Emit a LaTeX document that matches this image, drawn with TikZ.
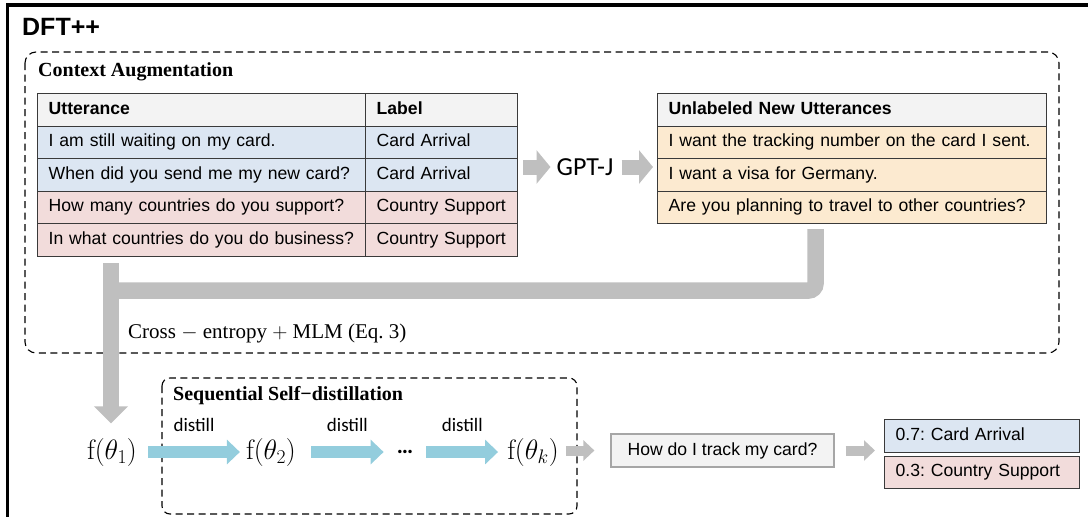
\documentclass[tikz,border=0pt]{standalone}
\usepackage{fix-cm}
\usepackage{fontspec}
\usetikzlibrary{arrows.meta}
\newfontfamily\arial{Liberation Sans}
\newfontfamily\calibri{Carlito}
\newfontfamily\cambria{Liberation Serif}
\newcommand\tabfont{\arial\fontsize{17.6}{20}\selectfont}
\frenchspacing
\definecolor{hdr}{HTML}{F3F3F3}
\definecolor{blu}{HTML}{DCE6F2}
\definecolor{pnk}{HTML}{F2DCDB}
\definecolor{org}{HTML}{FCEAD0}
\definecolor{garr}{HTML}{BFBFBF}
\definecolor{darr}{HTML}{93CDDD}
\definecolor{tb}{HTML}{3A3A3A}
\definecolor{qb}{HTML}{A6A6A6}
\begin{document}
\frenchspacing
\begin{tikzpicture}[x=1pt,y=-1pt,
  cell/.style={draw=tb, line width=1.4pt, anchor=north west, minimum height=32.5pt,
    inner xsep=11pt, inner ysep=0pt, align=left, text height=12.6pt, text depth=3.7pt, font=\tabfont},
  wa/.style={text width=306pt},
  wb/.style={text width=130pt},
  wc/.style={text width=367pt},
  wo/.style={text width=173pt},
  dashbox/.style={draw=black, line width=1.1pt, dash pattern=on 7pt off 4.5pt},
  fnode/.style={inner sep=0pt, font=\fontsize{28}{31}\selectfont},
  darrow/.style={draw=darr, line width=12pt, -{Triangle[width=24pt,length=13pt]}},
  garrow/.style={draw=garr, line width=15pt, -{Triangle[width=33pt,length=14pt]}},
  garrowsm/.style={draw=garr, line width=10pt, -{Triangle[width=20pt,length=11pt]}},
  bigbar/.style={draw=garr, line width=16.5pt, rounded corners=7pt},
  bigarrow/.style={draw=garr, line width=16pt, -{Triangle[width=33pt,length=17pt]}},
  dlab/.style={above=14pt, inner sep=0pt, font=\calibri\fontsize{19}{21}\selectfont},
  ttl/.style={anchor=base west, inner sep=0pt},
  grp/.style={ttl, font=\cambria\bfseries\fontsize{20}{23}\selectfont}
]
\useasboundingbox (0,0) rectangle (1088,517);
\clip (0,0) rectangle (1088,517);

% outer frame
\draw[line width=3.5pt] (7.5,5) rectangle (1100,530);
\node[ttl, font=\arial\bfseries\fontsize{25}{28}\selectfont] (title) at (22,35) {DFT++};

% dashed group boxes
\draw[dashbox, rounded corners=11pt] (25,52) rectangle (1059,353);
\node[grp] (ca) at (38,76) {Context Augmentation};
\draw[dashbox, rounded corners=8pt] (162,378) rectangle (577,514);
\node[grp] (sd) at (173,400) {Sequential Self−distillation};

% big gray connectors
\coordinate (rb) at (815.5,229);
\coordinate (lb) at (111,263);
\coordinate (jn) at (111,290.5);
\draw[bigbar] (rb) |- (jn);

% labeled table
\node[cell,wa,fill=hdr,font={\tabfont\bfseries}] (h1) at (37,93) {Utterance};
\node[cell,wb,fill=hdr,font={\tabfont\bfseries}] (h2) at (365,93) {Label};
\node[cell,wa,fill=blu] (u1) at (37,125.5) {I am still waiting on my card.};
\node[cell,wb,fill=blu] (l1) at (365,125.5) {Card Arrival};
\node[cell,wa,fill=blu] (u2) at (37,158) {When did you send me my new card?};
\node[cell,wb,fill=blu] (l2) at (365,158) {Card Arrival};
\node[cell,wa,fill=pnk] (u3) at (37,190.5) {How many countries do you support?};
\node[cell,wb,fill=pnk] (l3) at (365,190.5) {Country Support};
\node[cell,wa,fill=pnk] (u4) at (37,223) {In what countries do you do business?};
\node[cell,wb,fill=pnk] (l4) at (365,223) {Country Support};

% unlabeled table
\node[cell,wc,fill=hdr,font={\tabfont\bfseries}] (nh) at (657,93) {Unlabeled New Utterances};
\node[cell,wc,fill=org] (n1) at (657,125.5) {I want the tracking number on the card I sent.};
\node[cell,wc,fill=org] (n2) at (657,158) {I want a visa for Germany.};
\node[cell,wc,fill=org] (n3) at (657,190.5) {Are you planning to travel to other countries?};

% GPT-J
\node[inner sep=0pt, font=\calibri\fontsize{26}{30}\selectfont] (gpt) at (585,167) {GPT-J};
\draw[garrow, shorten <=5pt, shorten >=6pt] (gpt.west -| l2.east) -- (gpt.west);
\draw[garrow, shorten <=8pt, shorten >=4pt] (gpt.east) -- (gpt.east -| n2.west);

% loss label
\node[ttl, font=\cambria\fontsize{21}{24}\selectfont] (ce) at (128,338) {Cross $-$ entropy $+$ MLM (Eq. 3)};

% models
\node[fnode] (f1) at (112,452) {$\mathrm{f}(\theta_1)$};
\node[fnode] (f2) at (271,452) {$\mathrm{f}(\theta_2)$};
\node[inner sep=0pt, font=\calibri\bfseries\fontsize{23}{25}\selectfont] (dots) at (405,452) {…};
\node[fnode] (fk) at (533,452) {$\mathrm{f}(\theta_k)$};

\draw[bigarrow, shorten >=14.5pt] (lb) -- (lb |- f1.north);

\draw[darrow] ([xshift=11pt]f1.east) -- ([xshift=-6pt]f2.west) node[dlab, midway] {distill};
\draw[darrow] ([xshift=15pt]f2.east) -- ([xshift=-13pt]dots.west) node[dlab, midway] {distill};
\draw[darrow] ([xshift=13pt]dots.east) -- ([xshift=-9pt]fk.west) node[dlab, midway] {distill};

% query and output
\node[draw=qb, fill=hdr, line width=1.2pt, minimum width=223pt, minimum height=33pt, inner sep=0pt, font=\tabfont] (q) at (722.5,450.5) {How do I track my card?};
\node[cell,wo,fill=blu] (o1) at (884,419) {0.7: Card Arrival};
\node[cell,wo,fill=pnk] (o2) at (884,455.5) {0.3: Country Support};

\draw[garrowsm, shorten <=7pt, shorten >=16pt] (q.west -| fk.east) -- (q.west);
\draw[garrowsm, shorten <=11pt, shorten >=9pt] (q.east) -- (q.east -| o1.west);
\end{tikzpicture}
\end{document}
